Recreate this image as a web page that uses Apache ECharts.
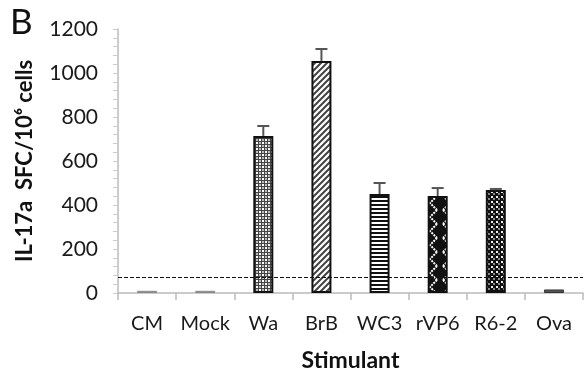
<!DOCTYPE html>
<html>
<head>
<meta charset="utf-8">
<script src="https://cdn.jsdelivr.net/npm/echarts@6/dist/echarts.min.js"></script>
<style>
  html, body { margin: 0; padding: 0; background: #fff; }
  #chart { width: 586px; height: 377px; }
</style>
</head>
<body>
<div id="chart"></div>
<script>
var categories = ['CM', 'Mock', 'Wa', 'BrB', 'WC3', 'rVP6', 'R6-2', 'Ova'];
var values = [10, 10, 714, 1055, 450, 441, 468, 16];
var errorsUp = [0, 0, 45, 54, 50, 36, 5, 0];
var cutoff = 70;

var FONT = 'Lato';

// 小图块做填充纹理
function tile(w, h, draw) {
  var c = document.createElement('canvas');
  c.width = w;
  c.height = h;
  var ctx = c.getContext('2d');
  draw(ctx);
  return { image: c, repeat: 'repeat' };
}

var patterns = [
  '#aaa',
  '#aaa',
  // Wa 灰色格子
  tile(6, 6, function (ctx) {
    ctx.fillStyle = '#444';
    ctx.fillRect(0, 0, 6, 6);
    ctx.fillStyle = '#fff';
    ctx.fillRect(1, 1, 2, 2);
    ctx.fillRect(4, 4, 2, 2);
    ctx.fillStyle = '#bbb';
    ctx.fillRect(4, 1, 2, 2);
    ctx.fillRect(1, 4, 2, 2);
  }),
  // BrB 斜线
  tile(6, 6, function (ctx) {
    ctx.fillStyle = '#fff';
    ctx.fillRect(0, 0, 6, 6);
    ctx.strokeStyle = '#444';
    ctx.lineWidth = 2;
    ctx.beginPath();
    ctx.moveTo(-1, 7); ctx.lineTo(7, -1);
    ctx.moveTo(-4, 4); ctx.lineTo(4, -4);
    ctx.moveTo(2, 10); ctx.lineTo(10, 2);
    ctx.stroke();
  }),
  // WC3 横条
  tile(4, 4, function (ctx) {
    ctx.fillStyle = '#fff';
    ctx.fillRect(0, 0, 4, 4);
    ctx.fillStyle = '#111';
    ctx.fillRect(0, 0, 4, 2);
  }),
  // rVP6 黑底白色交叉
  tile(20, 14, function (ctx) {
    ctx.fillStyle = '#111';
    ctx.fillRect(0, 0, 20, 14);
    ctx.strokeStyle = '#fff';
    ctx.lineWidth = 2;
    ctx.setLineDash([2, 1]);
    ctx.beginPath();
    ctx.moveTo(3, 0); ctx.lineTo(17, 14);
    ctx.moveTo(17, 0); ctx.lineTo(3, 14);
    ctx.stroke();
  }),
  // R6-2 黑底小格
  tile(5, 5, function (ctx) {
    ctx.fillStyle = '#111';
    ctx.fillRect(0, 0, 5, 5);
    ctx.fillStyle = '#eee';
    ctx.fillRect(1, 1, 2, 2);
    ctx.fillStyle = '#888';
    ctx.fillRect(3, 3, 2, 2);
  }),
  '#555'
];

var borderColors = ['#888', '#888', '#111', '#111', '#111', '#111', '#111', '#333'];

var barData = values.map(function (v, i) {
  return {
    value: v,
    itemStyle: {
      color: patterns[i],
      borderColor: borderColors[i],
      borderWidth: v < 50 ? 1 : 2
    }
  };
});

var errData = values.map(function (v, i) {
  return [i, v, v + errorsUp[i]];
});

var chart = echarts.init(document.getElementById('chart'));

var option = {
  animation: false,
  textStyle: { fontFamily: FONT },
  graphic: [{
    type: 'text',
    left: 10,
    top: 5,
    style: { text: 'B', fontSize: 35, fontFamily: FONT, fill: '#111' }
  }],
  grid: { left: 118, right: 3, top: 29, bottom: 84 },
  xAxis: {
    type: 'category',
    data: categories,
    name: 'Stimulant',
    nameLocation: 'middle',
    nameGap: 56,
    nameTextStyle: { fontSize: 23, fontWeight: 'bold', color: '#111', fontFamily: FONT },
    axisLine: { lineStyle: { color: '#bbb', width: 1.5 } },
    axisTick: { show: true, length: 7, lineStyle: { color: '#bbb', width: 1.5 } },
    axisLabel: { interval: 0, hideOverlap: false, fontSize: 20, color: '#1a1a1a', margin: 21, fontFamily: FONT }
  },
  yAxis: {
    type: 'value',
    min: 0,
    max: 1200,
    interval: 200,
    name: 'IL-17a  SFC/10⁶ cells',
    nameLocation: 'middle',
    nameGap: 82,
    nameTextStyle: { fontSize: 22, fontWeight: 'bold', color: '#111', fontFamily: FONT },
    axisLine: { show: true, lineStyle: { color: '#bbb', width: 1.5 } },
    axisTick: { show: true, length: 5, lineStyle: { color: '#ccc' } },
    minorTick: { show: true, splitNumber: 5, length: 5, lineStyle: { color: '#ccc' } },
    splitLine: { show: false },
    axisLabel: {
      fontSize: 21, color: '#1a1a1a', margin: 20, fontFamily: FONT,
      formatter: function (v) { return String(v); }
    }
  },
  series: [{
    type: 'bar',
    data: barData,
    barWidth: 20,
    markLine: {
      silent: true,
      symbol: 'none',
      label: { show: false },
      lineStyle: { color: '#111', type: [4, 2], width: 1.2 },
      data: [{ yAxis: cutoff }]
    }
  }, {
    type: 'custom',
    data: errData,
    z: 3,
    renderItem: function (params, api) {
      var i = api.value(0);
      if (api.value(2) <= api.value(1)) return;
      var p0 = api.coord([i, api.value(1)]);
      var p1 = api.coord([i, api.value(2)]);
      var half = 6;
      var st = { stroke: '#555', lineWidth: 2 };
      return {
        type: 'group',
        children: [
          { type: 'line', shape: { x1: p0[0], y1: p0[1], x2: p1[0], y2: p1[1] }, style: st },
          { type: 'line', shape: { x1: p1[0] - half, y1: p1[1], x2: p1[0] + half, y2: p1[1] }, style: st }
        ]
      };
    }
  }]
};

chart.setOption(option);
</script>
</body>
</html>
